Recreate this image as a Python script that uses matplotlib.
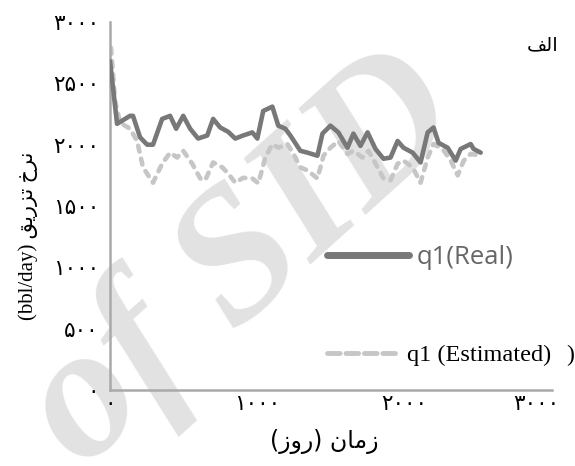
import matplotlib
matplotlib.use("Agg")
import matplotlib.pyplot as plt
from matplotlib.lines import Line2D
from matplotlib.transforms import ScaledTranslation

# ---------------- data ----------------
real_days = [0, 48, 136, 156, 204, 252, 292, 354, 408, 449, 497, 544, 598, 660, 700, 748, 802, 850, 904, 966,
             1000, 1040, 1102, 1142, 1190, 1224, 1292, 1340, 1408, 1442, 1496, 1550, 1612, 1652, 1700, 1748,
             1802, 1856, 1904, 1952, 1992, 2054, 2108, 2156, 2196, 2230, 2292, 2346, 2380, 2448, 2468, 2516]
real_vals = [2680, 2170, 2235, 2235, 2060, 2000, 2000, 2210, 2235, 2130, 2235, 2130, 2050, 2075, 2210, 2140,
             2105, 2050, 2075, 2100, 2050, 2275, 2310, 2155, 2130, 2075, 1950, 1935, 1910, 2090, 2155, 2100,
             1975, 2090, 1990, 2100, 1965, 1885, 1895, 2030, 1975, 1935, 1855, 2100, 2140, 2015, 1975, 1870,
             1965, 2005, 1965, 1935]

est_days = [7, 34, 68, 136, 184, 224, 292, 354, 408, 456, 497, 558, 612, 646, 700, 762, 802, 850, 904, 966,
            1007, 1054, 1102, 1142, 1204, 1245, 1292, 1340, 1408, 1449, 1496, 1550, 1612, 1652, 1714, 1755,
            1816, 1856, 1904, 1952, 1992, 2054, 2108, 2156, 2196, 2258, 2313, 2360, 2401, 2448, 2516]
est_vals = [2790, 2360, 2180, 2130, 2030, 1815, 1690, 1845, 1935, 1895, 1950, 1845, 1725, 1710, 1855, 1815,
            1765, 1690, 1730, 1725, 1685, 1895, 2005, 1975, 2005, 1925, 1815, 1790, 1725, 1910, 1975, 2030,
            1925, 1950, 1895, 1950, 1815, 1725, 1710, 1845, 1870, 1815, 1690, 1895, 2005, 1965, 1870, 1750,
            1870, 1925, 1910]

x_ticks = [0, 1000, 2000, 3000]
x_ticklabels = ["\u06F0", "\u06F1\u06F0\u06F0\u06F0", "\u06F2\u06F0\u06F0\u06F0", "\u06F3\u06F0\u06F0\u06F0"]
y_ticks = [0, 500, 1000, 1500, 2000, 2500, 3000]
y_ticklabels = ["\u06F0", "\u06F5\u06F0\u06F0", "\u06F1\u06F0\u06F0\u06F0", "\u06F1\u06F5\u06F0\u06F0",
                "\u06F2\u06F0\u06F0\u06F0", "\u06F2\u06F5\u06F0\u06F0", "\u06F3\u06F0\u06F0\u06F0"]

label_real = "q1(Real)"
label_est = "q1 (Estimated)"
# pre-shaped (visual order) Persian texts
ylabel_txt = "(bbl/day) " + "\uFED6\uFEF3\uFEAD\uFEB0\uFE97" + " " + "\uFEA5\uFEAE\uFEE7"
xlabel_txt = "(\uFEAF\uFEED\uFEAD) \uFEE5\uFE8E\uFEE3\uFEAF"
panel_txt = "\uFED2\uFEDF\uFE8D"

# ---------------- figure ----------------
W, H = 575, 466
fig = plt.figure(figsize=(W / 100, H / 100), dpi=100)
fig.patch.set_facecolor("white")

# watermark behind everything
fig.text(244 / W, 1 - 262 / H, "of SID", rotation=42, fontsize=136, fontweight="bold", style="italic",
         family=["Liberation Serif"], color="#e2e2e2", ha="center", va="center", zorder=-1)

ax = fig.add_axes([110 / W, 1 - 390 / H, 442 / W, 368 / H])
ax.set_facecolor("none")

real_c = "#787878"
est_c = "#c6c6c6"
ax.plot(real_days, real_vals, color=real_c, lw=3.3, solid_joinstyle="round", solid_capstyle="round", zorder=3)
ax.plot(est_days, est_vals, color=est_c, lw=3.3, dashes=(1.3, 1.6), dash_capstyle="round", zorder=2)

ax.set_xlim(0, 3000)
ax.set_ylim(0, 3000)
ax.set_xticks(x_ticks)
ax.set_xticklabels(x_ticklabels, family=["DejaVu Sans"], fontsize=15.5)
ax.set_yticks(y_ticks)
ax.set_yticklabels(y_ticklabels, family=["DejaVu Sans"], fontsize=15.5)
ax.tick_params(length=0)
ax.tick_params(axis="y", pad=8)
ax.tick_params(axis="x", pad=3)
# last x label sits a little left of its tick, as in the reference
lbl = ax.get_xticklabels()[-1]
lbl.set_transform(lbl.get_transform() + ScaledTranslation(-16 / 100, 0, fig.dpi_scale_trans))

for s in ["top", "right"]:
    ax.spines[s].set_visible(False)
for s in ["left", "bottom"]:
    ax.spines[s].set_color("#a9a9a9")
    ax.spines[s].set_linewidth(1.8)

# legends (two separate entries)
h_real = Line2D([], [], color=real_c, lw=5, solid_capstyle="round")
h_est = Line2D([], [], color=est_c, lw=3.5, dashes=(2.6, 1.2), dash_capstyle="round")
leg1 = ax.legend([h_real], [label_real], loc="center left", bbox_to_anchor=(0.49, 0.361),
                 frameon=False, borderpad=0, borderaxespad=0, handlelength=3.2, handletextpad=0.3,
                 prop={"family": "Open Sans", "size": 18.5})
for t in leg1.get_texts():
    t.set_color("#666666")
ax.add_artist(leg1)
leg2 = ax.legend([h_est], [label_est], loc="center left", bbox_to_anchor=(0.49, 0.095),
                 frameon=False, borderpad=0, borderaxespad=0, handlelength=2.8, handletextpad=0.5,
                 prop={"family": "Liberation Serif", "size": 17.5})

fig.text(570 / W, 1 - 355 / H, ")", family=["Liberation Serif"], fontsize=17, ha="center", va="center")

# axis labels
fig.text(28 / W, 1 - 236 / H, ylabel_txt, rotation=90, ha="center", va="center",
         family=["Liberation Serif", "DejaVu Sans"], fontsize=15)
fig.text(324 / W, 1 - 441 / H, xlabel_txt, ha="center", va="center",
         family=["DejaVu Sans"], fontsize=17)
fig.text(543 / W, 1 - 45 / H, panel_txt, ha="center", va="center",
         family=["DejaVu Sans"], fontsize=14)

fig.savefig("out.png", dpi=100)
